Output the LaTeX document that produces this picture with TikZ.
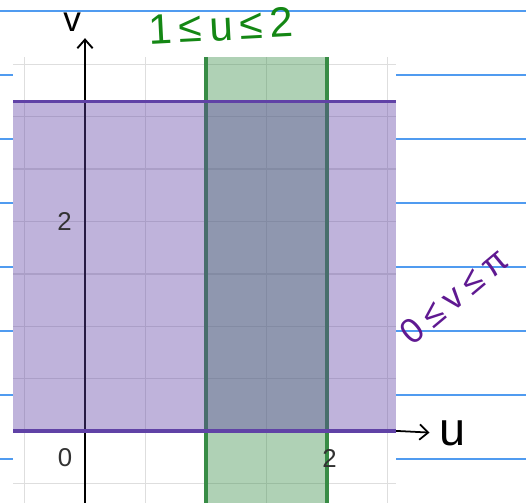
\documentclass[tikz,border=0pt]{standalone}
\usepackage{fontspec}
\setmainfont{Liberation Sans}
\usetikzlibrary{arrows.meta,positioning}
\definecolor{paperblue}{RGB}{80,155,240}
\definecolor{gridgray}{RGB}{222,222,222}
\definecolor{dgreen}{RGB}{56,140,70}
\definecolor{dpurple}{RGB}{96,66,166}
\definecolor{inkgreen}{RGB}{20,135,20}
\definecolor{inkpurple}{RGB}{95,25,145}
\definecolor{ticktext}{RGB}{50,50,50}
\tikzset{
    ruled/.style={paperblue, line width=1pt},
    gridline/.style={gridgray, line width=1.1pt},
    region/.style={fill opacity=0.4},
    boundary/.style={line width=2.6pt},
    ticklabel/.style={ticktext, inner sep=0pt, font=\fontsize{22}{24}\selectfont},
    ink/.style={line width=1.5pt, line cap=round, -{Straight Barb[length=2.6mm, width=4.6mm]}},
    hand/.style={inner sep=0pt, font=\fontsize{#1}{#1}\selectfont}
}

\begin{document}
\begin{tikzpicture}
    \useasboundingbox (0,0) rectangle (15.78,15.09);
    % notebook lines
    \foreach \y in {14.76,12.84,10.92,9.00,7.08,5.16,3.24,1.32}
        \draw[ruled] (0,\y) -- (15.78,\y);

    \begin{scope}[shift={(2.55,2.16)}, x=3.63cm, y=3.1425cm]
    % graph paper
    \fill[white] (-0.595,-0.687) rectangle (2.57,3.57);
    \foreach \u in {-0.5,0,...,2.5}
        \draw[gridline] (\u,-0.687) -- (\u,3.57);
    \foreach \v in {-0.5,0,...,3.5}
        \draw[gridline] (-0.595,\v) -- (2.57,\v);

    % axes
    \coordinate (vbot) at (0,-0.687);
    \coordinate (vtop) at (0,3.75);
    \coordinate (uleft) at (-0.595,0);
    \coordinate (uright) at (2.587,0);
    \draw[line width=1.6pt] (uleft) -- (uright);
    \draw[ink, line width=1.6pt] (vbot) -- (vtop);

    % regions
    \fill[dgreen, region] (1,-0.687) rectangle (2,3.57);
    \draw[dgreen, boundary] (1,-0.687) -- (1,3.57) (2,-0.687) -- (2,3.57);
    \fill[dpurple, region] (-0.595,0) rectangle (2.57,pi);
    \draw[dpurple, boundary] (-0.595,0) -- (2.57,0) (-0.595,pi) -- (2.57,pi);

    % labels
    \node[ticklabel] (t0) at (-0.165,-0.258) {0};
    \node[ticklabel] (t2u) at (2.02,-0.258) {2};
    \node[ticklabel] (t2v) at (-0.17,2) {2};
    \node[hand=30] (vlab) at (-0.107,3.9) {v};
    \node[hand=36, inkgreen, rotate=3] (ulim) at (1.124,3.866) {1\,≤\,u\,≤\,2};
    \node[hand=40, anchor=west] (ulab) at (2.93,-0.02) {u};
    \node[hand=30, inkpurple, rotate=40] (vlim) at (3.05,1.29) {0\hspace{6pt}≤\hspace{6pt}v\hspace{6pt}≤\hspace{6pt}π};

    % handwritten arrow
    \draw[ink, shorten >=0.3cm] (uright) -- (ulab.west);
    \end{scope}
\end{tikzpicture}
\end{document}
